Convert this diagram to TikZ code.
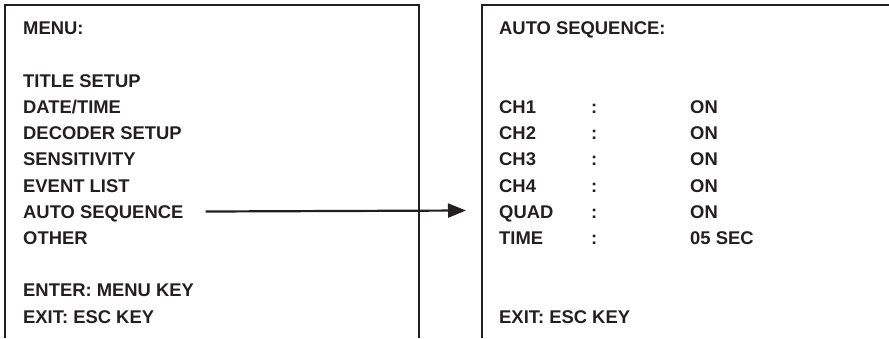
\documentclass[tikz,border=0pt]{standalone}
\usepackage{fontspec}
\setmainfont{Liberation Sans}
\usetikzlibrary{arrows.meta}

\definecolor{ink}{HTML}{231F20}

\tikzset{
	osd/.style={anchor=west,inner sep=0pt,text height=13.2pt,text depth=0pt,
		text=ink,font=\bfseries\fontsize{18.4}{22}\selectfont},
	frame/.style={draw=ink,line width=2.4pt},
	pointer/.style={draw=ink,line width=2.2pt,-{Triangle[length=18pt,width=14pt]}}
}

\begin{document}
\begin{tikzpicture}[x=1pt,y=-1pt]
	\useasboundingbox (0,0) rectangle (889,338);
	
	% Draw screens
	\draw[frame] (5,338) -- (5,5) -- (419,5) -- (419,338);
	\draw[frame] (482,338) -- (482,5) -- (889,5);
	
	% Draw nodes, main menu
	\node[osd] (menu) at (23,28) {MENU:};
	\node[osd] (title) at (23,80.5) {TITLE SETUP};
	\node[osd] (datetime) at (23,106.7) {DATE/TIME};
	\node[osd] (decoder) at (23,133) {DECODER SETUP};
	\node[osd] (sens) at (23,159.2) {SENSITIVITY};
	\node[osd] (event) at (23,185.4) {EVENT LIST};
	\node[osd] (autoseq) at (23,211.6) {AUTO SEQUENCE};
	\node[osd] (other) at (23,237.8) {OTHER};
	\node[osd] (enter) at (23,290.2) {ENTER: MENU KEY};
	\node[osd] (exitmenu) at (23,316.4) {EXIT: ESC KEY};
	
	% Draw nodes, auto sequence screen
	\node[osd] (seqhead) at (499,28) {AUTO SEQUENCE:};
	\node[osd] (ch1) at (499,106.7) {CH1};
	\node[osd] (ch2) at (499,133) {CH2};
	\node[osd] (ch3) at (499,159.2) {CH3};
	\node[osd] (ch4) at (499,185.4) {CH4};
	\node[osd] (quad) at (499,211.6) {QUAD};
	\node[osd] (time) at (499,237.8) {TIME};
	\node[osd] (ch1c) at (591,106.7) {:};
	\node[osd] (ch2c) at (591,133) {:};
	\node[osd] (ch3c) at (591,159.2) {:};
	\node[osd] (ch4c) at (591,185.4) {:};
	\node[osd] (quadc) at (591,211.6) {:};
	\node[osd] (timec) at (591,237.8) {:};
	\node[osd] (ch1v) at (690,106.7) {ON};
	\node[osd] (ch2v) at (690,133) {ON};
	\node[osd] (ch3v) at (690,159.2) {ON};
	\node[osd] (ch4v) at (690,185.4) {ON};
	\node[osd] (quadv) at (690,211.6) {ON};
	\node[osd] (timev) at (690,237.8) {05 SEC};
	\node[osd] (exitseq) at (499,316.4) {EXIT: ESC KEY};
	
	% Draw arc into the sub menu
	\coordinate (seqin) at (466,210.5);
	\draw[pointer,shorten <=22pt] (autoseq.east) -- (seqin);
	
\end{tikzpicture}
\end{document}
